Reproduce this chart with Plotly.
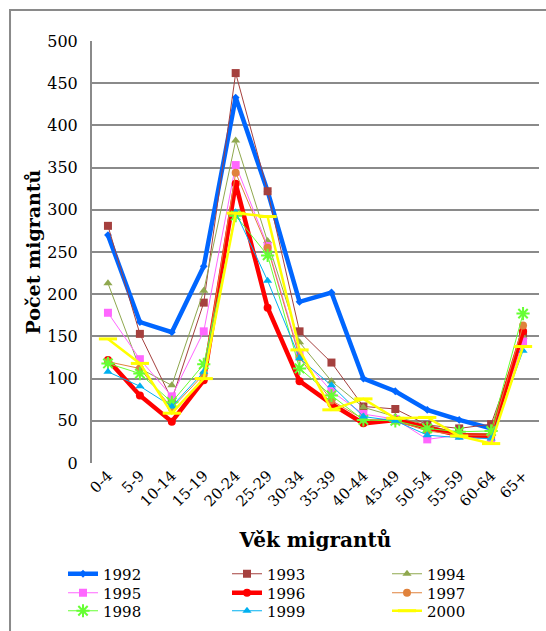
import plotly.graph_objects as go

categories = ["0-4", "5-9", "10-14", "15-19", "20-24", "25-29", "30-34",
              "35-39", "40-44", "45-49", "50-54", "55-59", "60-64", "65+"]

y1992 = [270, 167, 155, 233, 433, 322, 191, 202, 100, 85, 63, 51, 41, None]
y1993 = [281, 153, 75, 190, 462, 322, 156, 119, 67, 64, 45, 41, 46, 153]
y1994 = [213, 112, 92, 204, 382, 263, 143, 97, 66, 55, 45, 35, 35, 150]
y1995 = [178, 123, 79, 156, 353, 257, 128, 85, 58, 52, 28, 33, 28, 144]
y1996 = [122, 80, 49, 98, 331, 184, 97, 70, 47, 51, 42, 33, 32, 156]
y1997 = [120, 112, 65, 105, 344, 255, 125, 74, 52, 50, 38, 33, 33, 163]
y1998 = [118, 106, 72, 117, 293, 246, 112, 80, 51, 50, 41, 37, 38, 177]
y1999 = [108, 91, 67, 108, 297, 216, 124, 92, 55, 50, 33, 30, 29, 133]
y2000 = [147, 118, 59, 100, 296, 292, 134, 63, 76, 53, 54, 32, 23, 138]

series = [
    ("1992", y1992, "#0066FF", 4.5, "diamond", 6),
    ("1993", y1993, "#A5403E", 1, "square", 8),
    ("1994", y1994, "#8FA84E", 1, "triangle-up", 8),
    ("1995", y1995, "#FF66FF", 1, "square", 8),
    ("1996", y1996, "#FF0000", 4.5, "circle", 8),
    ("1997", y1997, "#E0823C", 1, "circle", 8),
    ("1998", y1998, "#66FF33", 1, "asterisk-open", 11),
    ("1999", y1999, "#00B0F0", 1, "triangle-up", 8),
    ("2000", y2000, "#FFFF00", 2.5, "line-ew-open", 13),
]

FONT = "DejaVu Serif"

fig = go.Figure()
legends = {}
col_x = [63, 227, 387]
row_y = [574, 593, 611]
for i, (name, ys, color, lw, sym, ms) in enumerate(series):
    marker = dict(symbol=sym, size=ms, color=color)
    if sym in ("asterisk-open", "line-ew-open"):
        marker["line"] = dict(color=color, width=3 if sym == "line-ew-open" else 2)
    lname = "legend" if i == 0 else f"legend{i + 1}"
    fig.add_trace(go.Scatter(
        x=categories, y=ys, name=name, mode="lines+markers",
        line=dict(color=color, width=lw), marker=marker,
        legend=lname,
    ))
    legends[lname] = dict(
        orientation="h", xref="container", yref="container",
        x=col_x[i % 3] / 546, xanchor="left",
        y=1 - row_y[i // 3] / 631, yanchor="middle",
        font=dict(family=FONT, size=15, color="black"),
        bgcolor="rgba(0,0,0,0)", borderwidth=0,
    )

fig.update_layout(
    width=546, height=631,
    margin=dict(l=92, r=7, t=41, b=168, autoexpand=False),
    paper_bgcolor="white", plot_bgcolor="white",
    font=dict(family=FONT, size=16, color="black"),
    showlegend=True,
    xaxis=dict(
        type="category", range=[-0.5, 13.5], tickangle=-45, showgrid=False, automargin=False,
        showline=False, ticks="", tickfont=dict(family=FONT, size=15),
        title=dict(text="<b>Věk migrantů</b>", font=dict(family=FONT, size=20), standoff=23),
    ),
    yaxis=dict(
        range=[0, 500], dtick=50, showgrid=True, gridcolor="#8A8A8A", gridwidth=2,
        showline=True, linecolor="#8A8A8A", linewidth=2, zeroline=False, automargin=False,
        ticks="", ticklabelstandoff=9, tickfont=dict(family=FONT, size=16),
        title=dict(text="<b>Počet migrantů</b>", font=dict(family=FONT, size=19), standoff=2),
    ),
    shapes=[dict(type="rect", xref="paper", yref="paper",
                 x0=-0.1834, y0=-0.45, x1=1.2, y1=1.0735,
                 line=dict(color="#8A8A8A", width=2), layer="below")],
    **legends,
)

fig.write_html("out.html", config={"displayModeBar": False},
               post_script="document.body.style.margin='0';")
